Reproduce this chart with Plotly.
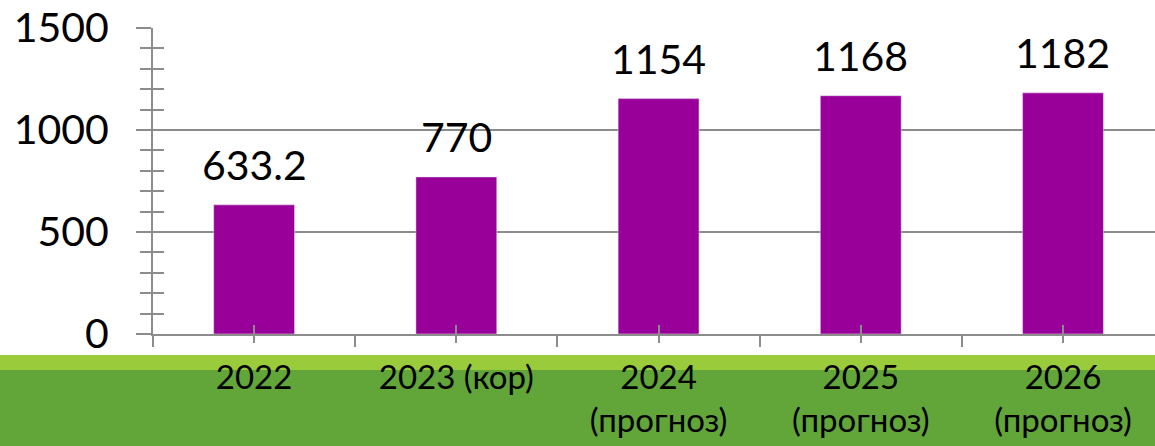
import plotly.graph_objects as go

categories = ["2022", "2023 (кор)", "2024<br>(прогноз)", "2025<br>(прогноз)", "2026<br>(прогноз)"]
values = [633.2, 770, 1154, 1168, 1182]
value_labels = ["633.2", "770", "1154", "1168", "1182"]

BAR = "#990099"
GRID = "#8c8c8c"
FONT = "Lato"

fig = go.Figure()
fig.add_trace(go.Bar(x=categories, y=values, marker_color=BAR, width=0.4,
                     showlegend=False, hoverinfo="skip"))

xr = [-0.5, 4.455]
yr = [0, 1500]

annotations = [dict(x=i, y=v, text=t, xref="x", yref="y", showarrow=False,
                    yanchor="bottom", yshift=14,
                    font=dict(family=FONT, size=41, color="black"))
               for i, (v, t) in enumerate(zip(values, value_labels))]

fig.update_layout(
    width=1155, height=446,
    margin=dict(l=153, r=0, t=28, b=112, autoexpand=False),
    paper_bgcolor="white", plot_bgcolor="white",
    bargap=0.6,
    annotations=annotations,
    shapes=[
        dict(type="rect", xref="paper", yref="paper", x0=-0.2, x1=1.1,
             y0=-112/306, y1=-(355-334)/306, fillcolor="#62A538",
             line_width=0, layer="below"),
        dict(type="rect", xref="paper", yref="paper", x0=-0.2, x1=1.1,
             y0=-(370-334)/306, y1=-(355-334)/306, fillcolor="#9ACB3A",
             line_width=0, layer="below"),
    ],
    xaxis=dict(type="category", range=xr, showgrid=False, automargin=False,
               showline=True, linecolor=GRID, linewidth=2,
               tickson="boundaries", ticks="outside", ticklen=11,
               tickwidth=2, tickcolor=GRID, ticklabelstandoff=13,
               tickfont=dict(family=FONT, size=33, color="black")),
    xaxis2=dict(overlaying="x", anchor="y", range=xr, tickvals=[0, 1, 2, 3, 4],
                showticklabels=False, showgrid=False, zeroline=False,
                ticks="inside", ticklen=9, tickwidth=2, tickcolor=GRID),
    xaxis3=dict(overlaying="x", anchor="y", range=xr, tickvals=[0, 1, 2, 3, 4],
                showticklabels=False, showgrid=False, zeroline=False,
                ticks="outside", ticklen=8, tickwidth=2, tickcolor=GRID),
    yaxis=dict(range=yr, dtick=500, showgrid=True, gridcolor=GRID, gridwidth=2,
               showline=True, linecolor=GRID, linewidth=2, zeroline=False,
               automargin=False,
               ticks="outside", ticklen=15, tickwidth=2, tickcolor=GRID,
               ticklabelstandoff=19,
               minor=dict(dtick=100, ticks="outside", ticklen=11,
                          tickwidth=2, tickcolor=GRID, showgrid=False),
               tickfont=dict(family=FONT, size=41, color="black")),
    yaxis2=dict(overlaying="y", anchor="x", range=yr, dtick=100, side="left",
                showticklabels=False, showgrid=False, zeroline=False,
                ticks="inside", ticklen=11, tickwidth=2, tickcolor=GRID),
)
fig.add_trace(go.Scatter(x=[None], y=[None], xaxis="x2", yaxis="y2",
                         showlegend=False, hoverinfo="skip"))
fig.add_trace(go.Scatter(x=[None], y=[None], xaxis="x3", yaxis="y",
                         showlegend=False, hoverinfo="skip"))

fig.write_html("out.html", config={"displayModeBar": False},
               post_script="document.body.style.margin='0';document.body.style.overflow='hidden';")
